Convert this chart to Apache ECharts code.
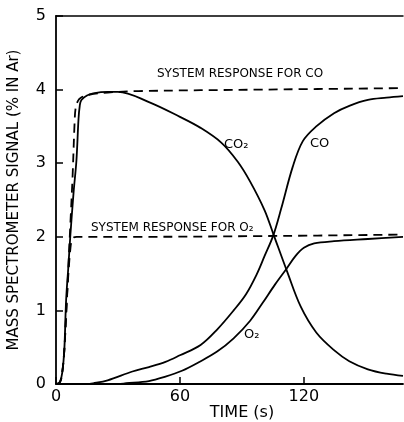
<!DOCTYPE html>
<html lang="en">
<head>
  <meta charset="UTF-8">
  <title>Mass spectrometer signal</title>
  <style>
    html, body { margin: 0; padding: 0; background: #fff; }
    #chart { width: 404px; height: 422px; }
  </style>
  <script src="https://cdn.jsdelivr.net/npm/echarts@6/dist/echarts.min.js"></script>
</head>
<body>
  <div id="chart"></div>
  <script>
    // values (time in s, signal in % in Ar)
    var co2Time = [0, 1, 2, 3, 4, 4.9, 6, 6.9, 8.5, 9.9, 10.9, 11.5, 12.3, 15, 18, 25, 30, 45, 60, 70, 80, 88, 94, 101, 105.2, 112, 118.5, 126, 134.6, 142, 151, 160, 168];
    var co2Val = [0, 0, 0.03, 0.15, 0.45, 1.14, 1.6, 2.0, 2.6, 3.04, 3.6, 3.78, 3.86, 3.92, 3.95, 3.97, 3.97, 3.83, 3.63, 3.48, 3.28, 3.02, 2.75, 2.36, 2.04, 1.52, 1.05, 0.70, 0.46, 0.31, 0.20, 0.14, 0.11];

    var coTime = [0, 15, 18, 25, 37, 45, 53, 60, 70, 78, 86, 92, 97, 101, 105.2, 109, 114.6, 119.5, 126, 134.6, 142, 151, 160, 168];
    var coVal = [0, 0, 0.01, 0.05, 0.17, 0.23, 0.3, 0.39, 0.53, 0.74, 1.0, 1.22, 1.48, 1.74, 2.02, 2.38, 2.95, 3.3, 3.5, 3.68, 3.78, 3.86, 3.89, 3.91];

    var o2Time = [0, 30, 34, 45, 53, 61, 69.4, 78, 86, 94, 100, 106, 111.7, 116, 120, 125, 134.6, 151, 168];
    var o2Val = [0, 0, 0.01, 0.04, 0.1, 0.18, 0.3, 0.44, 0.62, 0.86, 1.1, 1.35, 1.57, 1.74, 1.85, 1.91, 1.94, 1.97, 2.0];

    var sysCoTime = [0, 1, 2, 3, 4, 5, 6, 7, 8, 9, 9.5, 10.5, 12, 16, 25, 40, 100, 168];
    var sysCoVal = [0, 0, 0.03, 0.15, 0.45, 1.0, 1.6, 2.2, 2.8, 3.55, 3.75, 3.84, 3.89, 3.93, 3.96, 3.98, 4.0, 4.02];

    var sysO2Time = [0, 2, 3, 4, 5, 6, 7, 7.6, 8.5, 10, 40, 100, 168];
    var sysO2Val = [0, 0.03, 0.15, 0.45, 1.0, 1.5, 1.85, 1.95, 1.99, 2.0, 2.0, 2.01, 2.03];

    var xTicks = [0, 60, 120];
    var yTicks = [0, 1, 2, 3, 4, 5];

    function pairs(t, v) {
      return t.map(function (x, i) { return [x, v[i]]; });
    }

    var font = '"DejaVu Sans", sans-serif';
    var chart = echarts.init(document.getElementById('chart'), null, { renderer: 'canvas' });

    function curve(name, t, v, dashed) {
      return {
        name: name,
        type: 'line',
        data: pairs(t, v),
        smooth: 0.35,
        symbol: 'none',
        silent: true,
        lineStyle: { color: '#000', width: 1.8, type: dashed ? [9, 6] : 'solid' }
      };
    }

    var option = {
      animation: false,
      backgroundColor: '#fff',
      grid: { left: 56, right: 1, top: 16, bottom: 38, containLabel: false, outerBoundsMode: 'none' },
      xAxis: [{
        type: 'value',
        min: 0,
        max: 168,
        interval: 60,
        axisLine: { lineStyle: { color: '#000', width: 1.8 } },
        axisTick: { inside: true, length: 7, lineStyle: { color: '#000', width: 1.5 } },
        axisLabel: {
          color: '#000', fontSize: 16, fontFamily: font, margin: 5,
          showMaxLabel: false,
          formatter: function (val) { return xTicks.indexOf(val) >= 0 ? String(val) : ''; }
        },
        splitLine: { show: false }
      }, {
        type: 'value',
        position: 'top',
        min: 0,
        max: 168,
        axisLine: { onZero: false, lineStyle: { color: '#000', width: 1.5 } },
        axisTick: { show: false },
        axisLabel: { show: false },
        splitLine: { show: false }
      }],
      yAxis: {
        type: 'value',
        min: 0,
        max: 5,
        interval: 1,
        name: 'MASS SPECTROMETER SIGNAL (% IN Ar)',
        nameLocation: 'middle',
        nameGap: 34,
        nameTextStyle: { color: '#000', fontSize: 15, fontFamily: font },
        axisLine: { show: true, lineStyle: { color: '#000', width: 1.8 } },
        axisTick: { inside: true, length: 7, lineStyle: { color: '#000', width: 1.5 } },
        axisLabel: {
          color: '#000', fontSize: 16, fontFamily: font, margin: 10,
          formatter: function (val) { return yTicks.indexOf(val) >= 0 ? String(val) : ''; }
        },
        splitLine: { show: false }
      },
      series: [
        curve('CO2', co2Time, co2Val, false),
        curve('CO', coTime, coVal, false),
        curve('O2', o2Time, o2Val, false),
        curve('System response for CO', sysCoTime, sysCoVal, true),
        curve('System response for O2', sysO2Time, sysO2Val, true)
      ],
      graphic: [
        { type: 'text', x: 242, y: 405, style: { text: 'TIME (s)', font: '16px ' + font, fill: '#000', align: 'center' } },
        { type: 'text', x: 157, y: 68, style: { text: 'SYSTEM RESPONSE FOR CO', font: '12px ' + font, fill: '#000' } },
        { type: 'text', x: 91, y: 222, style: { text: 'SYSTEM RESPONSE FOR O₂', font: '12px ' + font, fill: '#000' } },
        { type: 'text', x: 224, y: 138, style: { text: 'CO₂', font: '13px ' + font, fill: '#000' } },
        { type: 'text', x: 310, y: 137, style: { text: 'CO', font: '13px ' + font, fill: '#000' } },
        { type: 'text', x: 244, y: 328, style: { text: 'O₂', font: '13px ' + font, fill: '#000' } }
      ]
    };

    chart.setOption(option);
  </script>
</body>
</html>
